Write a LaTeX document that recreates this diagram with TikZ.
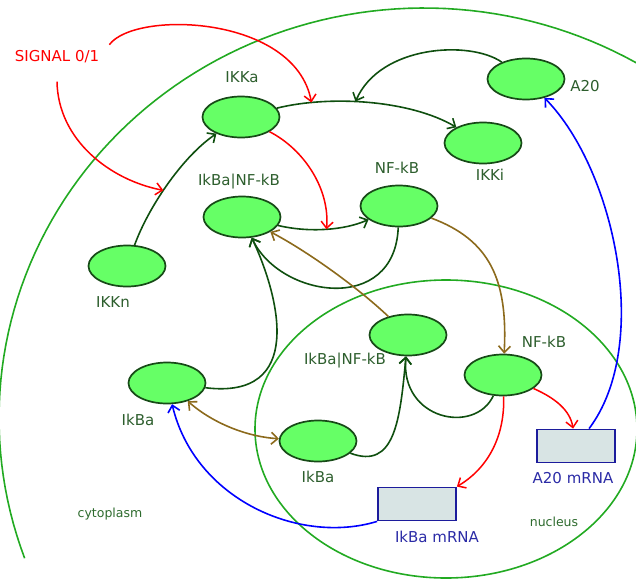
\documentclass[tikz,border=0pt]{standalone}
\usepackage{fontspec}
\setmainfont{DejaVu Sans}
\usetikzlibrary{shapes.geometric,arrows.meta}
\definecolor{specfill}{HTML}{66FF66}
\definecolor{specline}{HTML}{174A17}
\definecolor{conncol}{HTML}{0F4F0F}
\definecolor{labcol}{HTML}{2D5E2D}
\definecolor{wallcol}{HTML}{22AA22}
\definecolor{transcol}{HTML}{8C6A1C}
\definecolor{mrnafill}{HTML}{D8E4E4}
\definecolor{mrnaline}{HTML}{1C1C9C}
\definecolor{mrnatext}{HTML}{2B2BA6}
\definecolor{regtext}{HTML}{2E6B2E}

\begin{document}
\begin{tikzpicture}[x=1pt,y=-1pt,
  species/.style={ellipse,draw=specline,fill=specfill,line width=1.7pt,
    minimum width=77pt,minimum height=41pt,inner sep=0pt},
  mrna/.style={rectangle,draw=mrnaline,fill=mrnafill,line width=1.8pt,
    minimum width=78pt,minimum height=33pt,inner sep=0pt},
  lab/.style={anchor=base,text=labcol,font=\fontsize{15}{18}\selectfont,inner sep=0pt},
  mlab/.style={lab,text=mrnatext},
  region/.style={anchor=base,text=regtext,font=\fontsize{12.5}{15}\selectfont,inner sep=0pt},
  headed/.style={-{Straight Barb[length=6.5pt,width=12pt]}},
  conn/.style={draw=conncol,line width=1.6pt,headed},
  sig/.style={draw=red,line width=1.5pt,headed},
  trans/.style={draw=transcol,line width=1.6pt,headed},
  expr/.style={draw=blue,line width=1.6pt,headed},
  wall/.style={draw=wallcol,line width=1.6pt}]
\useasboundingbox (0,0) rectangle (636,583);
\clip (0,0) rectangle (636,583);

% cell and nucleus
\draw[wall] plot[domain=200:50,samples=90,variable=\t]
  ({424+425*cos(\t)},{418-410*sin(\t)});
\draw[wall] (446,429) ellipse [x radius=191,y radius=149];
\node[region] (cyto) at (110,517) {cytoplasm};
\node[region] (nuc) at (554,526) {nucleus};

% species
\node[species] (IKKa) at (241,117) {};
\node[species] (IKKi) at (483,143) {};
\node[species] (A20) at (526,79) {};
\node[species] (IKKn) at (127,266) {};
\node[species] (cIkBaNFkB) at (242,217) {};
\node[species] (cNFkB) at (399,206) {};
\node[species] (cIkBa) at (167,383) {};
\node[species] (nIkBaNFkB) at (408,335) {};
\node[species] (nNFkB) at (503,375) {};
\node[species] (nIkBa) at (318,441) {};
\node[mrna] (A20mRNA) at (576,446) {};
\node[mrna] (IkBamRNA) at (417,504) {};

% labels
\node[lab] (IKKa-l) at (242,83) {IKKa};
\node[lab] (IKKi-l) at (490,180) {IKKi};
\node[lab] (A20-l) at (585,92) {A20};
\node[lab] (IKKn-l) at (113,307) {IKKn};
\node[lab] (cIkBaNFkB-l) at (239,185) {IkBa|NF-kB};
\node[lab] (cNFkB-l) at (397,173) {NF-kB};
\node[lab] (cIkBa-l) at (138,425) {IkBa};
\node[lab] (nIkBaNFkB-l) at (345,364) {IkBa|NF-kB};
\node[lab] (nNFkB-l) at (544,347) {NF-kB};
\node[lab] (nIkBa-l) at (318,482) {IkBa};
\node[mlab] (A20mRNA-l) at (573,483) {A20 mRNA};
\node[mlab] (IkBamRNA-l) at (437,542) {IkBa mRNA};
\node[lab,text=red,inner sep=3pt] (signal) at (57,62) {SIGNAL 0/1};

% reactions
\draw[conn] (IKKa) .. controls (330,95) and (410,100) .. (IKKi)
  coordinate[pos=0.2] (k1) coordinate[pos=0.43] (k2);
\draw[conn] (IKKn) .. controls (148,208) and (182,157) .. (IKKa)
  coordinate[pos=0.45] (k3);
\draw[conn] (cIkBaNFkB) .. controls (310,233) and (345,230) .. (cNFkB)
  coordinate[pos=0.5] (k4);
\draw[conn] (A20) .. controls (470,40) and (380,45) .. (k2);
\draw[sig] ([shift={(7pt,3pt)}]signal.north east) .. controls (135,10) and (295,15) .. (k1);
\draw[sig] ([yshift=-15pt]signal.south) .. controls (58,140) and (110,180) .. (k3);
\draw[sig] (IKKa) .. controls (305,150) and (330,190) .. (k4);
\draw[conn] (cNFkB) .. controls (395,315) and (280,298) .. (cIkBaNFkB);
\draw[conn] (cIkBa) .. controls (305,400) and (280,298) .. (cIkBaNFkB);
\draw[trans] (nIkBaNFkB) .. controls (355,285) and (305,250) .. (cIkBaNFkB);
\draw[trans] (cNFkB) .. controls (490,240) and (508,280) .. (nNFkB);
\draw[trans,{Straight Barb[length=6.5pt,width=12pt]}-{Straight Barb[length=6.5pt,width=12pt]}]
  (cIkBa) .. controls (215,425) and (250,437) .. (nIkBa);
\draw[conn] (nNFkB) .. controls (475,435) and (400,420) .. (nIkBaNFkB);
\draw[conn] (nIkBa) .. controls (395,470) and (400,420) .. (nIkBaNFkB);
\draw[sig] (nNFkB) .. controls (555,398) and (570,410) .. (A20mRNA);
\draw[sig] (nNFkB) .. controls (505,440) and (485,470) .. (IkBamRNA.north east);
\draw[expr] (A20mRNA) .. controls (652,345) and (615,170) .. (A20);
\draw[expr] (IkBamRNA.south west) .. controls (300,545) and (195,500) .. (cIkBa);
\end{tikzpicture}
\end{document}
